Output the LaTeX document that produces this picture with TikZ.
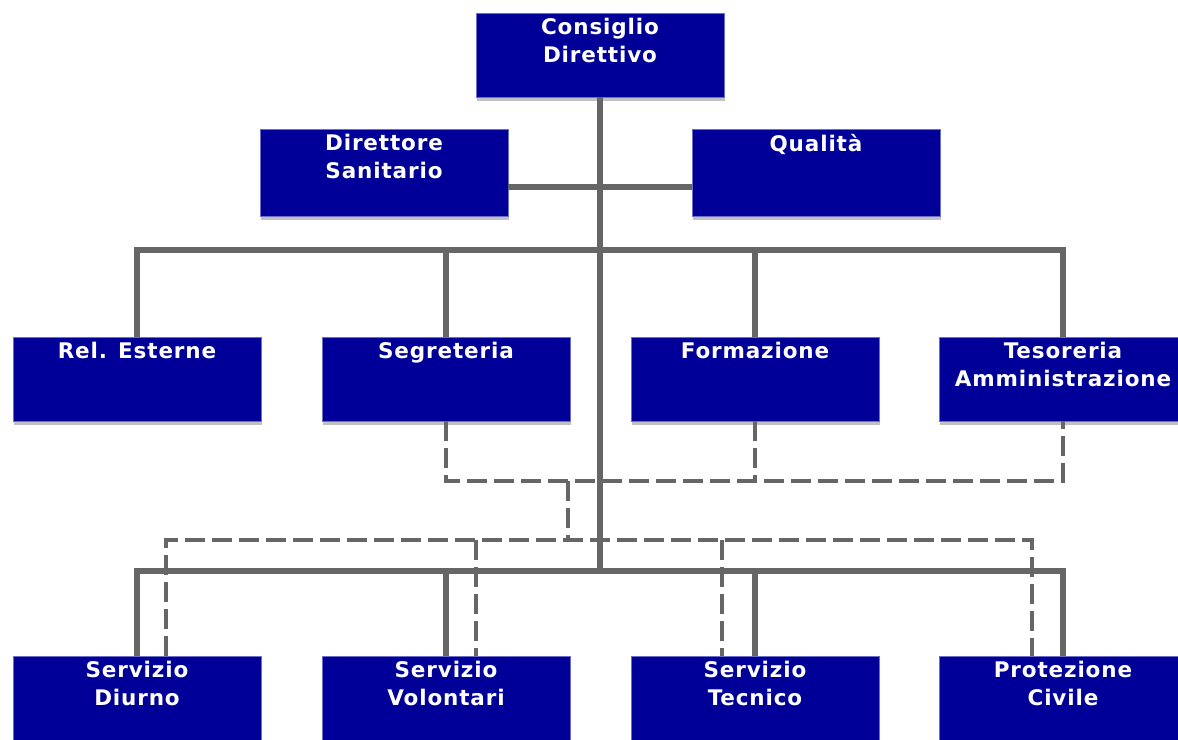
\documentclass[tikz,border=0pt]{standalone}
\usepackage{fontspec}
\newfontfamily\boxfont{DejaVu Sans}[LetterSpace=4]
\usetikzlibrary{calc,shadows}
\definecolor{boxblue}{RGB}{0,0,153}
\definecolor{boxedge}{RGB}{110,110,200}
\definecolor{linegray}{RGB}{102,102,102}
\definecolor{shadowgray}{RGB}{192,192,192}
\tikzset{
  orgbox/.style={draw=boxedge, fill=boxblue, line width=0.8pt, minimum width=248pt,
    minimum height=84pt, inner sep=0pt,
    drop shadow={shadow xshift=1pt, shadow yshift=-4pt, fill=shadowgray, opacity=1}},
  tallbox/.style={orgbox, minimum height=87pt},
  boxtext/.style={font=\boxfont\bfseries\fontsize{21.5}{28}\selectfont, text=white,
    align=center, inner sep=0pt, anchor=north},
  solidline/.style={draw=linegray, line width=6pt},
  dashline/.style={draw=linegray, line width=4pt, dash pattern=on 20pt off 7pt}
}
\begin{document}
\begin{tikzpicture}[x=1pt,y=-1pt]
\useasboundingbox (0,0) rectangle (1178,739);
\clip (0,0) rectangle (1178,739);
\fill[white] (0,0) rectangle (1178,739);
% junction coordinates
\coordinate (h1) at (600,187);
\coordinate (b1) at (600,250);
\coordinate (b2) at (600,571);
\coordinate (d1) at (568,481);
\coordinate (d2) at (568,540);
\coordinate (r2a) at (137,250); \coordinate (r2b) at (446,250);
\coordinate (r2c) at (755,250); \coordinate (r2d) at (1063,250);
\coordinate (r3a) at (137,571); \coordinate (r3b) at (446,571);
\coordinate (r3c) at (755,571); \coordinate (r3d) at (1063,571);
% boxes
\node[orgbox] (cd) at (600,55) {};
\node[tallbox] (ds) at (384,172.5) {};
\node[tallbox] (q) at (816,172.5) {};
\node[orgbox] (rel) at (137,379) {};
\node[orgbox] (seg) at (446,379) {};
\node[orgbox] (for) at (755,379) {};
\node[orgbox] (tes) at (1063,379) {};
\node[orgbox] (sd) at (137,698) {};
\node[orgbox] (sv) at (446,698) {};
\node[orgbox] (st) at (755,698) {};
\node[orgbox] (pc) at (1063,698) {};
% solid connectors
\draw[solidline] (cd.south) -- (b2);
\draw[solidline] (ds.east |- h1) -- (q.west |- h1);
\draw[solidline] (rel.north) -- (r2a) -- (r2d) -- (tes.north);
\draw[solidline] (seg.north) -- (r2b);
\draw[solidline] (for.north) -- (r2c);
\draw[solidline] (sd.north) -- (r3a) -- (r3d) -- (pc.north);
\draw[solidline] (sv.north) -- (r3b);
\draw[solidline] (st.north) -- (r3c);
% dashed connectors
\draw[dashline] (seg.south) -- (seg.south |- d1) -- (tes.south |- d1) -- (tes.south);
\draw[dashline] (for.south) -- (for.south |- d1);
\draw[dashline] (d1) -- (d2);
\coordinate (da) at ($(sd.north)+(29,0)$);
\coordinate (db) at ($(sv.north)+(30,0)$);
\coordinate (dc) at ($(st.north)+(-33,0)$);
\coordinate (dd) at ($(pc.north)+(-31,0)$);
\draw[dashline] (da) -- (da |- d2) -- (dd |- d2) -- (dd);
\draw[dashline] (db |- d2) -- (db);
\draw[dashline] (dc |- d2) -- (dc);
% texts
\node[boxtext] (cdt) at ($(cd.north)+(0,5.5)$) {Consiglio\\Direttivo};
\node[boxtext] (dst) at ($(ds.north)+(0,5.5)$) {Direttore\\Sanitario};
\node[boxtext] (qt) at ($(q.north)+(0,5.5)$) {Qualità};
\node[boxtext] (relt) at ($(rel.north)+(0,5.5)$) {Rel. Esterne};
\node[boxtext] (segt) at ($(seg.north)+(0,5.5)$) {Segreteria};
\node[boxtext] (fort) at ($(for.north)+(0,5.5)$) {Formazione};
\node[boxtext] (test) at ($(tes.north)+(0,5.5)$) {Tesoreria\\Amministrazione};
\node[boxtext] (sdt) at ($(sd.north)+(0,5.5)$) {Servizio\\Diurno};
\node[boxtext] (svt) at ($(sv.north)+(0,5.5)$) {Servizio\\Volontari};
\node[boxtext] (stt) at ($(st.north)+(0,5.5)$) {Servizio\\Tecnico};
\node[boxtext] (pct) at ($(pc.north)+(0,5.5)$) {Protezione\\Civile};
\end{tikzpicture}
\end{document}
